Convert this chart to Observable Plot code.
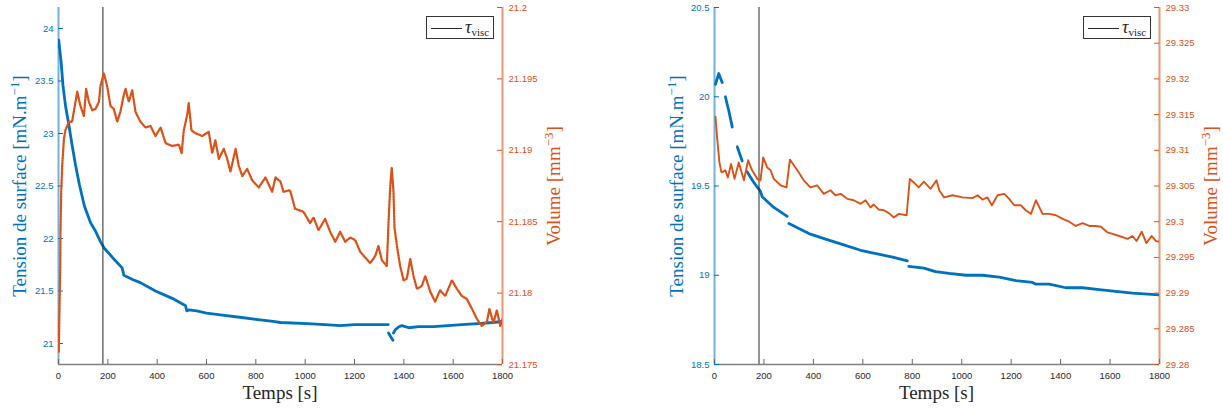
<!DOCTYPE html>
<html>
<head>
<meta charset="utf-8">
<script src="https://cdn.jsdelivr.net/npm/d3@7"></script>
<script src="https://cdn.jsdelivr.net/npm/@observablehq/plot@0.6"></script>
<style>
  body { margin: 0; background: #fff; }
  #wrap { position: relative; width: 1223px; height: 410px; overflow: hidden; background: #fff; }
  .layer { position: absolute; top: 0; }
  .ytitle { position: absolute; font-family: "Liberation Serif", "Times New Roman", serif; font-size: 19px; white-space: nowrap; transform: translate(-50%, -50%) rotate(-90deg); line-height: 1; }
  .xtitle { position: absolute; font-family: "Liberation Serif", "Times New Roman", serif; font-size: 19px; white-space: nowrap; transform: translate(-50%, -50%); color: #262626; line-height: 1; }
  sup { font-size: 0.68em; vertical-align: 0; position: relative; top: -0.55em; line-height: 0; }
  .legend { position: absolute; width: 68px; height: 23px; box-sizing: border-box; border: 1px solid #333; background: #fff; }
  .lg-line { position: absolute; left: 4px; top: 11px; width: 31px; height: 1px; background: #262626; }
  .lg-text { position: absolute; left: 38px; top: 1px; font-family: "Liberation Serif", "Times New Roman", serif; line-height: 18px; white-space: nowrap; color: #262626; }
  .tau { font-style: italic; font-size: 18px; }
  .sub { font-size: 11px; position: relative; top: 3px; }
</style>
</head>
<body>
<div id="wrap"></div>
<script>
// ---------- data ----------
const tauVisc = 180;
const timeTicks = [0, 200, 400, 600, 800, 1000, 1200, 1400, 1600, 1800];

// Left experiment
const leftTensionTicks = [21, 21.5, 22, 22.5, 23, 23.5, 24];
const leftVolumeTicks = [21.175, 21.18, 21.185, 21.19, 21.195, 21.2];
const leftTensionTime = [1, 11, 18, 28, 42, 55, 69, 85, 105, 130, 150, 170, 185, 204, 230, 258, 265, 300, 332, 393, 461, 508, 515, 520, 528, 560, 600, 664, 735, 800, 870, 900, 1008, 1080, 1143, 1200, 1280, 1337, 1338, 1348, 1356, 1358, 1365, 1380, 1392, 1420, 1460, 1520, 1580, 1634, 1700, 1760, 1800];
const leftTension = [23.89, 23.67, 23.46, 23.27, 23.08, 22.89, 22.70, 22.51, 22.31, 22.15, 22.07, 21.97, 21.91, 21.86, 21.79, 21.72, 21.65, 21.61, 21.58, 21.50, 21.43, 21.37, 21.36, 21.31, 21.32, 21.31, 21.29, 21.27, 21.25, 21.23, 21.21, 21.20, 21.19, 21.18, 21.17, 21.18, 21.18, 21.18, 21.10, 21.06, 21.03, 21.10, 21.13, 21.16, 21.17, 21.15, 21.16, 21.16, 21.17, 21.18, 21.19, 21.20, 21.21];
const leftTensionGaps = [1337.5, 1357];
const leftVolumeTime = [1, 4, 7, 8, 11, 15, 22, 28, 42, 55, 69, 76, 89, 103, 112, 123, 137, 150, 164, 170, 184, 197, 211, 224, 238, 251, 265, 272, 285, 299, 312, 332, 353, 373, 393, 414, 434, 461, 488, 499, 508, 522, 528, 539, 555, 583, 609, 623, 636, 650, 670, 684, 697, 718, 731, 745, 765, 785, 812, 839, 866, 880, 900, 912, 939, 959, 993, 1020, 1034, 1054, 1081, 1101, 1122, 1142, 1162, 1183, 1203, 1223, 1243, 1264, 1284, 1297, 1311, 1331, 1338, 1345, 1351, 1358, 1362, 1372, 1385, 1399, 1412, 1426, 1439, 1453, 1473, 1487, 1507, 1527, 1547, 1568, 1595, 1615, 1635, 1655, 1676, 1696, 1716, 1737, 1747, 1763, 1777, 1791, 1800];
const leftVolume = [21.1759, 21.1789, 21.1817, 21.1843, 21.1871, 21.1889, 21.1908, 21.1914, 21.1920, 21.1920, 21.1934, 21.1941, 21.1931, 21.1924, 21.1943, 21.1934, 21.1928, 21.1929, 21.1934, 21.1945, 21.1954, 21.1945, 21.1931, 21.1929, 21.1920, 21.1927, 21.1939, 21.1943, 21.1934, 21.1942, 21.1927, 21.1920, 21.1916, 21.1917, 21.1910, 21.1916, 21.1905, 21.1903, 21.1904, 21.1898, 21.1914, 21.1925, 21.1933, 21.1914, 21.1912, 21.1910, 21.1913, 21.1898, 21.1907, 21.1894, 21.1901, 21.1894, 21.1885, 21.1901, 21.1889, 21.1882, 21.1887, 21.1879, 21.1874, 21.1881, 21.1871, 21.1881, 21.1878, 21.1871, 21.1872, 21.1859, 21.1857, 21.1849, 21.1853, 21.1844, 21.1852, 21.1843, 21.1836, 21.1843, 21.1836, 21.1839, 21.1837, 21.1829, 21.1825, 21.1821, 21.1826, 21.1833, 21.1823, 21.1819, 21.1850, 21.1875, 21.1888, 21.1871, 21.1846, 21.1833, 21.1819, 21.1809, 21.1810, 21.1824, 21.1812, 21.1803, 21.1805, 21.1812, 21.1801, 21.1794, 21.1802, 21.1798, 21.1809, 21.1803, 21.1798, 21.1796, 21.1789, 21.1782, 21.1777, 21.1780, 21.1789, 21.1779, 21.1788, 21.1777, 21.1782];

// Right experiment
const rightTensionTicks = [18.5, 19, 19.5, 20, 20.5];
const rightVolumeTicks = [29.28, 29.285, 29.29, 29.295, 29.3, 29.305, 29.31, 29.315, 29.32, 29.325, 29.33];
const rightTensionTime = [4, 17, 31, 44, 58, 72, 92, 112, 132, 159, 186, 193, 240, 294, 301, 388, 456, 523, 591, 658, 725, 780, 786, 847, 894, 949, 1017, 1084, 1152, 1219, 1286, 1300, 1354, 1421, 1489, 1556, 1623, 1691, 1800];
const rightTension = [20.07, 20.13, 20.08, 20.00, 19.92, 19.83, 19.72, 19.64, 19.58, 19.52, 19.47, 19.44, 19.38, 19.33, 19.29, 19.23, 19.20, 19.17, 19.14, 19.12, 19.10, 19.08, 19.05, 19.04, 19.02, 19.01, 19.00, 19.00, 18.99, 18.97, 18.96, 18.95, 18.95, 18.93, 18.93, 18.92, 18.91, 18.90, 18.89];
const rightTensionGaps = [38, 80, 122, 297, 783];
const rightVolumeTime = [4, 11, 20, 28, 44, 54, 67, 81, 98, 119, 136, 152, 173, 186, 197, 213, 227, 240, 267, 291, 305, 321, 341, 361, 388, 415, 442, 469, 489, 510, 537, 563, 591, 611, 631, 644, 665, 685, 705, 725, 746, 777, 790, 806, 826, 847, 874, 898, 909, 929, 963, 1003, 1044, 1064, 1084, 1104, 1122, 1145, 1172, 1192, 1212, 1239, 1259, 1280, 1300, 1327, 1354, 1381, 1408, 1435, 1461, 1489, 1516, 1542, 1563, 1590, 1610, 1637, 1671, 1691, 1707, 1728, 1747, 1768, 1785, 1800];
const rightVolume = [29.3147, 29.3116, 29.3083, 29.3069, 29.3072, 29.3062, 29.3081, 29.3060, 29.3083, 29.3058, 29.3086, 29.3072, 29.3060, 29.3058, 29.3090, 29.3076, 29.3072, 29.3060, 29.3051, 29.3048, 29.3087, 29.3079, 29.3069, 29.3058, 29.3048, 29.3051, 29.3039, 29.3044, 29.3037, 29.3039, 29.3032, 29.3030, 29.3025, 29.3030, 29.3020, 29.3024, 29.3017, 29.3016, 29.3012, 29.3006, 29.3011, 29.3009, 29.3060, 29.3055, 29.3048, 29.3056, 29.3046, 29.3058, 29.3044, 29.3034, 29.3037, 29.3034, 29.3033, 29.3037, 29.3031, 29.3034, 29.3023, 29.3037, 29.3039, 29.3032, 29.3023, 29.3023, 29.3016, 29.3011, 29.3030, 29.3011, 29.3011, 29.3009, 29.3004, 29.3000, 29.2994, 29.2998, 29.2994, 29.2994, 29.2993, 29.2985, 29.2983, 29.2980, 29.2976, 29.2980, 29.2973, 29.2986, 29.2970, 29.2980, 29.2973, 29.2972];

// ---------- rendering ----------
const BLUE = "#0072BD";
const ORANGE = "#D95319";
const H = 410, MT = 7, MB = 46;
const plotH = H - MT - MB;

function rows(ts, vs, gaps) {
  return ts.map((t, i) => ({t, v: vs[i], seg: gaps ? gaps.filter(g => g < t).length : 0}));
}

const baseStyle = {background: "transparent", fontFamily: "Liberation Sans, Arial, Helvetica, sans-serif", fontSize: "9.5px", overflow: "visible"};

function panel(cfg) {
  const plotW = cfg.width - cfg.mL - cfg.mR;
  const tension = rows(cfg.tT, cfg.tV, cfg.tGaps);
  const volume = rows(cfg.vT, cfg.vV, null);

  const leftSvg = Plot.plot({
    width: cfg.width, height: H, marginLeft: cfg.mL, marginRight: cfg.mR, marginTop: MT, marginBottom: MB,
    style: baseStyle,
    x: {domain: [0, 1800], axis: null},
    y: {domain: cfg.yL, axis: null},
    marks: [
      Plot.line(tension, {x: "t", y: "v", z: "seg", stroke: BLUE, strokeWidth: 2.8, clip: true}),
      Plot.ruleX([tauVisc], {stroke: "#262626", strokeWidth: 1}),
      Plot.ruleY([cfg.yL[0]], {stroke: "#808080", strokeWidth: 1.6}),
      Plot.ruleX([0], {stroke: BLUE, strokeOpacity: 0.55, strokeWidth: 2}),
      Plot.tickX(timeTicks, {x: d => d, stroke: "#666", insetTop: plotH - 5}),
      Plot.tickY(cfg.ticksL, {y: d => d, stroke: BLUE, insetRight: plotW - 5}),
      Plot.axisX(timeTicks, {anchor: "bottom", tickSize: 0, tickPadding: 8, color: "#262626", label: null, tickFormat: d => String(d)}),
      Plot.axisY(cfg.ticksL, {anchor: "left", tickSize: 0, tickPadding: 5, color: BLUE, label: null, tickFormat: d => String(d)})
    ]
  });

  const rightSvg = Plot.plot({
    width: cfg.width, height: H, marginLeft: cfg.mL, marginRight: cfg.mR, marginTop: MT, marginBottom: MB,
    style: baseStyle,
    x: {domain: [0, 1800], axis: null},
    y: {domain: cfg.yR, axis: null},
    marks: [
      Plot.line(volume, {x: "t", y: "v", stroke: ORANGE, strokeWidth: cfg.vWidth, strokeDasharray: cfg.vDash, clip: true}),
      Plot.ruleX([1800], {stroke: ORANGE, strokeOpacity: 0.6, strokeWidth: 2}),
      Plot.tickY(cfg.ticksR, {y: d => d, stroke: ORANGE, insetLeft: plotW - 5}),
      Plot.axisY(cfg.ticksR, {anchor: "right", tickSize: 0, tickPadding: 6, color: ORANGE, label: null, tickFormat: d => String(d)})
    ]
  });

  const wrap = document.getElementById("wrap");
  for (const svg of [leftSvg, rightSvg]) {
    const d = document.createElement("div");
    d.className = "layer";
    d.style.left = cfg.left + "px";
    d.appendChild(svg);
    wrap.appendChild(d);
  }

  const x0 = cfg.left + cfg.mL, x1 = cfg.left + cfg.width - cfg.mR;
  const midY = MT + plotH / 2;

  const tl = document.createElement("div");
  tl.className = "ytitle";
  tl.style.left = cfg.titleLX + "px"; tl.style.top = midY + "px"; tl.style.color = BLUE;
  tl.innerHTML = "Tension de surface [mN.m<sup>\u22121</sup>]";
  wrap.appendChild(tl);

  const tr = document.createElement("div");
  tr.className = "ytitle";
  tr.style.left = cfg.titleRX + "px"; tr.style.top = midY + "px"; tr.style.color = ORANGE;
  tr.innerHTML = "Volume [mm<sup>\u22123</sup>]";
  wrap.appendChild(tr);

  const tx = document.createElement("div");
  tx.className = "xtitle";
  tx.style.left = ((x0 + x1) / 2) + "px"; tx.style.top = "392px";
  tx.textContent = "Temps [s]";
  wrap.appendChild(tx);

  const lg = document.createElement("div");
  lg.className = "legend";
  lg.style.left = (x1 - 76) + "px"; lg.style.top = "16px";
  lg.innerHTML = '<div class="lg-line"></div><div class="lg-text"><span class="tau">\u03C4</span><span class="sub">visc</span></div>';
  wrap.appendChild(lg);
}

panel({
  left: 0, width: 612, mL: 58, mR: 110,
  yL: [20.8, 24.2], yR: [21.175, 21.2],
  ticksL: leftTensionTicks, ticksR: leftVolumeTicks,
  tT: leftTensionTime, tV: leftTension, tGaps: leftTensionGaps,
  vT: leftVolumeTime, vV: leftVolume, vWidth: 2.3, vDash: "1.4 1.4",
  titleLX: 19, titleRX: 553
});

panel({
  left: 612, width: 611, mL: 102, mR: 64,
  yL: [18.5, 20.5], yR: [29.28, 29.33],
  ticksL: rightTensionTicks, ticksR: rightVolumeTicks,
  tT: rightTensionTime, tV: rightTension, tGaps: rightTensionGaps,
  vT: rightVolumeTime, vV: rightVolume, vWidth: 1.9, vDash: null,
  titleLX: 676, titleRX: 1210
});
</script>
</body>
</html>
